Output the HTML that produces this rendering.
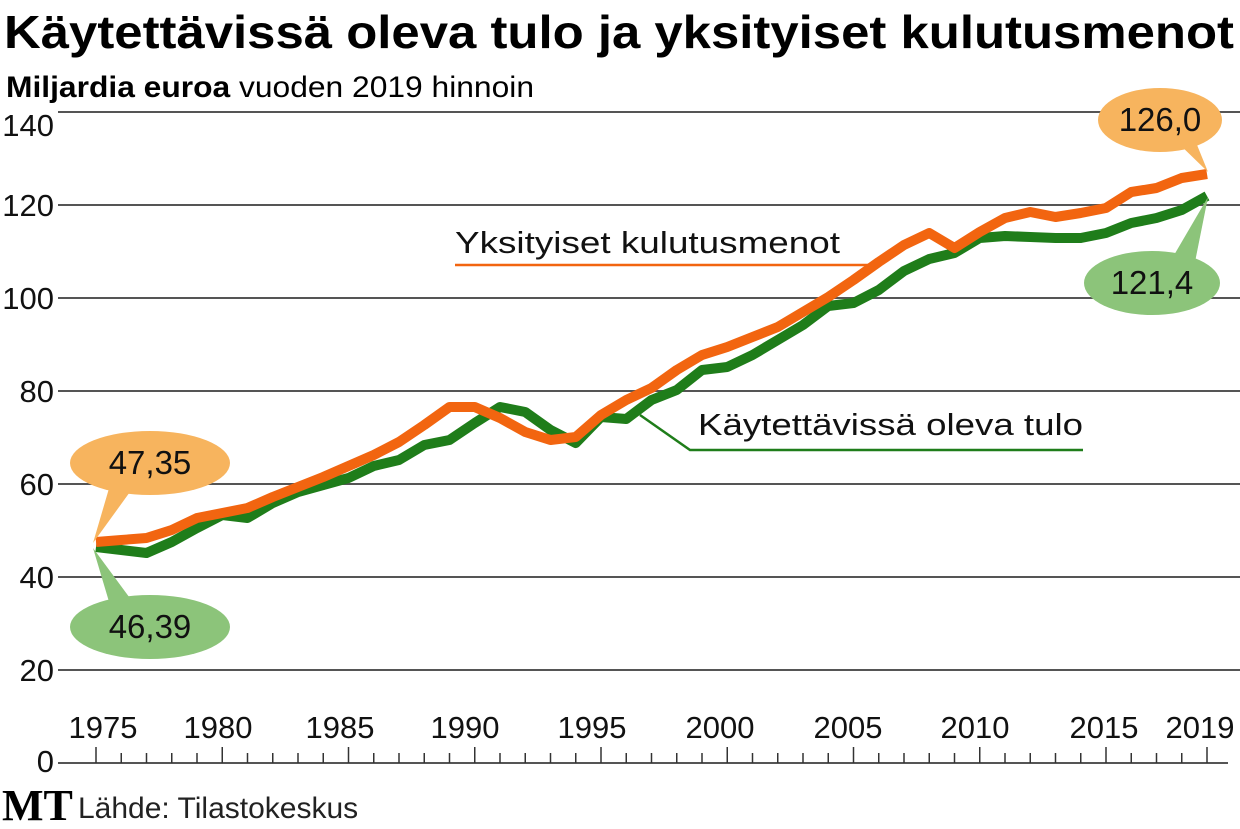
<!DOCTYPE html>
<html><head><meta charset="utf-8"><style>body{margin:0;background:#fff}svg{display:block}text{font-family:"Liberation Sans",sans-serif}</style></head><body>
<svg width="1240" height="829" viewBox="0 0 1240 829">
<text x="4" y="48" font-size="46" font-weight="bold" textLength="1230" lengthAdjust="spacingAndGlyphs">Käytettävissä oleva tulo ja yksityiset kulutusmenot</text>
<text x="6" y="97" font-size="30" textLength="528" lengthAdjust="spacingAndGlyphs"><tspan font-weight="bold">Miljardia euroa</tspan> vuoden 2019 hinnoin</text>
<g stroke="#555" stroke-width="2">
<line x1="58" y1="112" x2="1240" y2="112"/><line x1="58" y1="205" x2="1240" y2="205"/><line x1="58" y1="298" x2="1240" y2="298"/><line x1="58" y1="391" x2="1240" y2="391"/><line x1="58" y1="484" x2="1240" y2="484"/><line x1="58" y1="577" x2="1240" y2="577"/><line x1="58" y1="670" x2="1240" y2="670"/><line x1="58" y1="763" x2="1228" y2="763"/>
</g>
<g font-size="31" fill="#111" text-anchor="end">
<text x="54" y="136">140</text><text x="54" y="216">120</text><text x="54" y="309">100</text><text x="54" y="402">80</text><text x="54" y="495">60</text><text x="54" y="588">40</text><text x="54" y="681">20</text><text x="54" y="772">0</text>
</g>
<path stroke="#333" stroke-width="1.5" fill="none" d="M96 747V763M121.25 753V763M146.5 753V763M171.75 753V763M197 753V763M222.25 747V763M247.5 753V763M272.75 753V763M298 753V763M323.25 753V763M348.5 747V763M373.75 753V763M399 753V763M424.25 753V763M449.5 753V763M474.75 747V763M500 753V763M525.25 753V763M550.5 753V763M575.75 753V763M601 747V763M626.25 753V763M651.5 753V763M676.75 753V763M702 753V763M727.25 747V763M752.5 753V763M777.75 753V763M803 753V763M828.25 753V763M853.5 747V763M878.75 753V763M904 753V763M929.25 753V763M954.5 753V763M979.75 747V763M1005 753V763M1030.25 753V763M1055.5 753V763M1080.75 753V763M1106 747V763M1131.25 753V763M1156.5 753V763M1181.75 753V763M1207 747V763"/>
<g font-size="31" fill="#111" text-anchor="middle">
<text x="103" y="738">1975</text><text x="218" y="738">1980</text><text x="340" y="738">1985</text><text x="465" y="738">1990</text><text x="592" y="738">1995</text><text x="720" y="738">2000</text><text x="848" y="738">2005</text><text x="975" y="738">2010</text><text x="1104" y="738">2015</text><text x="1200" y="738">2019</text>
</g>
<polyline fill="none" stroke="#1f7d1a" stroke-width="10" stroke-linejoin="round" points="96,547 121.25,550 146.5,553 171.75,542 197,528 222.25,515 247.5,518 272.75,503 298,492 323.25,485 348.5,478 373.75,466 399,460 424.25,445 449.5,440 474.75,423 500,407 525.25,412 550.5,430 575.75,443 601,417 626.25,419 651.5,400 676.75,390 702,370 727.25,367 752.5,355 777.75,340 803,325 828.25,306 853.5,303 878.75,290 904,271 929.25,259 954.5,253 979.75,238 1005,236 1030.25,237 1055.5,238 1080.75,238 1106,233 1131.25,223 1156.5,218 1181.75,210 1207,196"/>
<polyline fill="none" stroke="#f26510" stroke-width="10" stroke-linejoin="round" points="96,542 121.25,540 146.5,538 171.75,530 197,518 222.25,513 247.5,508 272.75,497 298,487 323.25,477 348.5,466 373.75,455 399,442 424.25,425 449.5,407 474.75,407 500,418 525.25,432 550.5,440 575.75,437 601,415 626.25,400 651.5,388 676.75,370 702,355 727.25,347 752.5,337 777.75,327 803,312 828.25,297 853.5,280 878.75,262 904,245 929.25,233 954.5,248 979.75,232 1005,218 1030.25,212 1055.5,217 1080.75,213 1106,208 1131.25,192 1156.5,188 1181.75,178 1207,174"/>
<line x1="455" y1="265" x2="870" y2="265" stroke="#f26510" stroke-width="2.5"/>
<text x="455" y="253" font-size="31" fill="#111" textLength="385" lengthAdjust="spacingAndGlyphs">Yksityiset kulutusmenot</text>
<polyline points="640,415 690,450 1083,450" fill="none" stroke="#1f7d1a" stroke-width="2.5"/>
<text x="698" y="435" font-size="31" fill="#111" textLength="385" lengthAdjust="spacingAndGlyphs">Käytettävissä oleva tulo</text>
<g fill="#f7b45e"><ellipse cx="1160" cy="120" rx="62" ry="32"/><polygon points="1175,140 1195,140 1208,172"/>
<ellipse cx="150" cy="463" rx="80" ry="32"/><polygon points="110,485 135,485 93,543"/></g>
<g fill="#8cc47a"><ellipse cx="1152" cy="283" rx="68" ry="32"/><polygon points="1170,262 1195,262 1208,197"/>
<ellipse cx="150" cy="627" rx="80" ry="32"/><polygon points="110,605 135,605 93,548"/></g>
<g font-size="33" fill="#111" text-anchor="middle">
<text x="1160" y="131">126,0</text><text x="1152" y="294">121,4</text><text x="150" y="474">47,35</text><text x="150" y="638">46,39</text>
</g>
<text x="2" y="820" font-size="44" font-weight="bold" style="font-family:'Liberation Serif',serif">MT</text>
<text x="78" y="818" font-size="30" fill="#222">Lähde: Tilastokeskus</text>
</svg>
</body></html>
